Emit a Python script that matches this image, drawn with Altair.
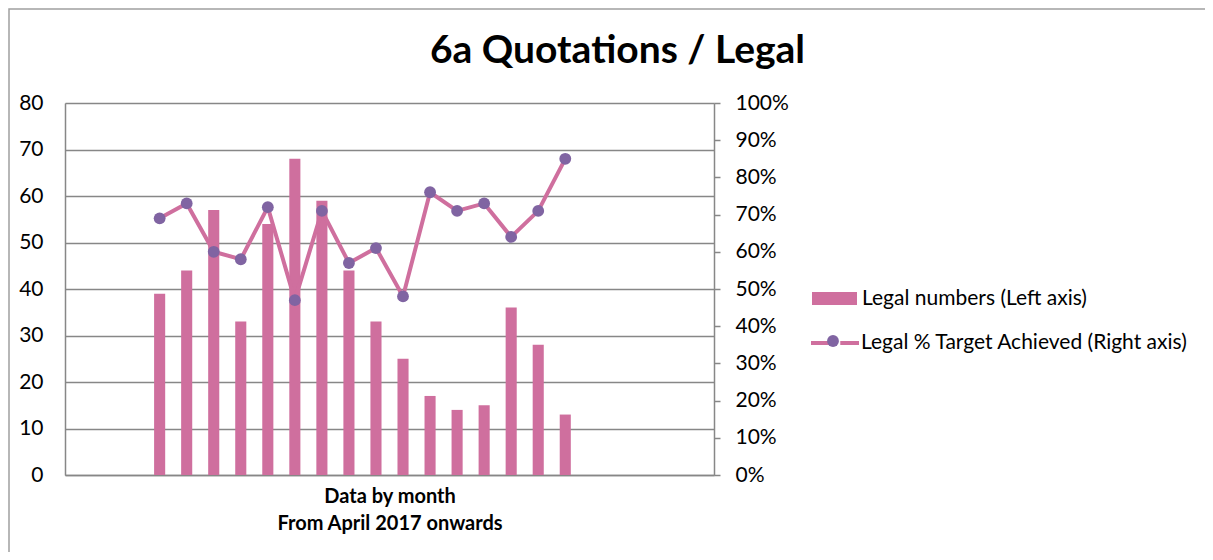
import altair as alt
import pandas as pd

# ---- data ----
slots = [f"S{i:02d}" for i in range(1, 25)]          # 24 category slots on the x axis
data_slots = slots[3:19]                               # slots that carry data
legal_numbers = [39, 44, 57, 33, 54, 68, 59, 44, 33, 25, 17, 14, 15, 36, 28, 13]
target_pct = [69, 73, 60, 58, 72, 47, 71, 57, 61, 48, 76, 71, 73, 64, 71, 85]
left_ticks = [0, 10, 20, 30, 40, 50, 60, 70, 80]
right_ticks = [0, 0.1, 0.2, 0.3, 0.4, 0.5, 0.6, 0.7, 0.8, 0.9, 1.0]
bar_name = "Legal numbers (Left axis)"
line_name = "Legal % Target Achieved (Right axis)"

df = pd.DataFrame({
    "slot": data_slots,
    "legal": legal_numbers,
    "pct": [v / 100 for v in target_pct],
    "bar_series": bar_name,
    "line_series": line_name,
    "pt_series": " ",
})

PINK = "#CF6F9E"
PURPLE = "#8064A2"
GRID = "#878787"
FONT = "Lato"
LBL = 21

x_enc = alt.X(
    "slot:N",
    sort=slots,
    scale=alt.Scale(domain=slots, paddingInner=0.59, paddingOuter=0.295),
    axis=alt.Axis(
        title=["Data by month", "From April 2017 onwards"],
        labels=False, ticks=False, tickSize=0,
        domainColor=GRID, domainWidth=1.5,
        titleFont=FONT, titleFontSize=20, titleFontWeight="bold", titleColor="black",
        titlePadding=11, titleLineHeight=27,
    ),
)

base = alt.Chart(df).encode(x=x_enc)

bars = base.mark_bar().encode(
    y=alt.Y(
        "legal:Q",
        scale=alt.Scale(domain=[0, 80], nice=False),
        axis=alt.Axis(
            orient="left", values=left_ticks, title=None,
            ticks=False, tickSize=0, labelPadding=22, labelOverlap=False,
            grid=True, gridColor=GRID, gridWidth=1.5,
            domainColor=GRID, domainWidth=1.5,
            labelFont=FONT, labelFontSize=LBL, labelColor="black",
        ),
    ),
    fill=alt.Fill(
        "bar_series:N",
        scale=alt.Scale(range=[PINK]),
        legend=alt.Legend(
            title=None, orient="none", legendX=747, legendY=173,
            symbolType="M-1,-0.29H1V0.29H-1Z", symbolSize=2025,
            symbolStrokeWidth=0, labelOffset=5, padding=0, labelLimit=500,
            labelFont=FONT, labelFontSize=LBL, labelColor="black",
        ),
    ),
)

right_axis = alt.Axis(
    orient="right", values=right_ticks, format=".0%", title=None,
    ticks=True, tickSize=6, tickColor=GRID, tickWidth=1.5,
    labelPadding=15, grid=False, labelOverlap=False,
    domainColor=GRID, domainWidth=1.5,
    labelFont=FONT, labelFontSize=LBL, labelColor="black",
)
right_scale = alt.Scale(domain=[0, 1], nice=False)

line = base.mark_line(strokeWidth=4).encode(
    y=alt.Y("pct:Q", scale=right_scale, axis=right_axis),
    stroke=alt.Stroke(
        "line_series:N",
        scale=alt.Scale(range=[PINK]),
        legend=alt.Legend(
            title=None, orient="none", legendX=744, legendY=214,
            symbolType="M-1,0H-0.22M0.22,0H1", symbolSize=2304,
            symbolStrokeWidth=4, labelOffset=0, padding=0, labelLimit=500,
            labelFont=FONT, labelFontSize=LBL, labelColor="black",
        ),
    ),
)

points = base.mark_circle(size=140, opacity=1).encode(
    y=alt.Y("pct:Q", scale=right_scale, axis=right_axis),
    color=alt.Color(
        "pt_series:N",
        scale=alt.Scale(range=[PURPLE]),
        legend=alt.Legend(
            title=None, orient="none", legendX=762, legendY=232,
            symbolType="circle", symbolSize=140, symbolOpacity=1,
            symbolStrokeWidth=0, padding=0,
            labelFontSize=1,
        ),
    ),
)

frame = alt.Chart(pd.DataFrame({"k": [0]})).mark_rect(
    fill=None, stroke="#A0A0A0", strokeWidth=1.5
).encode(
    x=alt.value(-56), x2=alt.value(1200), y=alt.value(-94), y2=alt.value(500)
)

chart = (
    alt.layer(frame, bars, alt.layer(line, points))
    .resolve_scale(y="independent")
    .properties(
        width=649, height=372,
        autosize=alt.AutoSizeParams(type="none"),
        padding={"left": 57, "top": 95, "right": 491, "bottom": 77},
        title=alt.TitleParams(
            "6a Quotations / Legal", font=FONT, fontSize=39, fontWeight="bold",
            color="black", anchor="middle", frame="group", dx=228,
            baseline="alphabetic", offset=-94,
        ),
    )
    .configure_view(stroke=None)
    .configure(background="white")
)

chart.save("out.html", embed_options={"renderer": "svg", "actions": False})
